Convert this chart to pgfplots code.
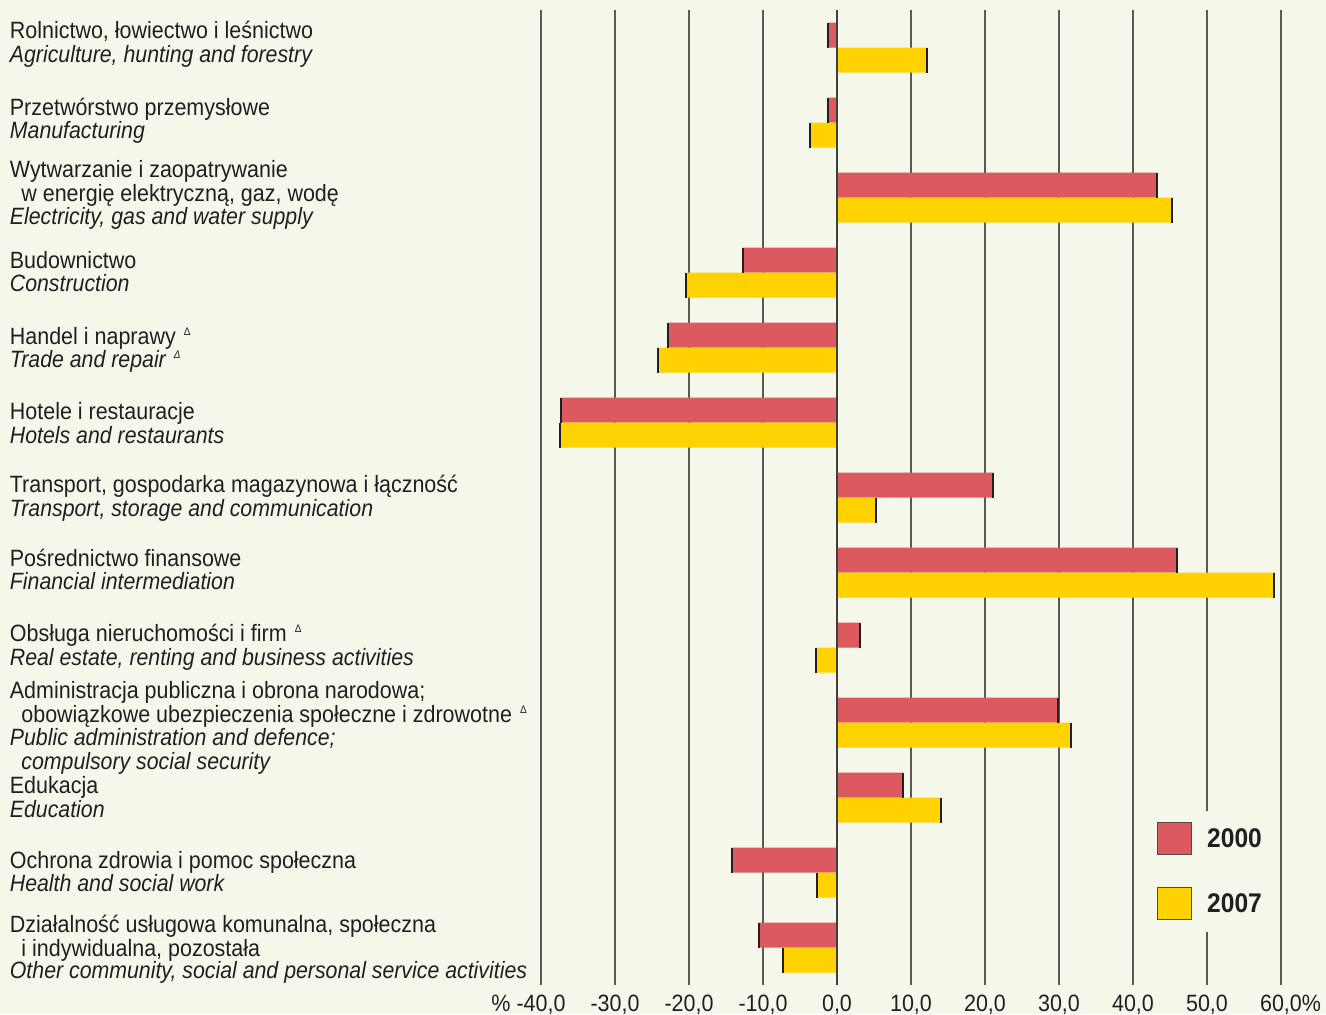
\documentclass[border=0pt]{standalone}
\usepackage{pgfplots}
\pgfplotsset{compat=1.18}
\usepackage{pgfplotstable}
\usepackage{fontspec}
\setmainfont{Liberation Sans}[FakeStretch=0.91, ItalicFeatures={FakeStretch=0.903}]
\definecolor{bgc}{HTML}{F6F7EB}
\definecolor{redc}{HTML}{DC5A5F}
\definecolor{yelc}{HTML}{FFD200}
\definecolor{capc}{HTML}{231F20}
\definecolor{txtc}{HTML}{231F20}
\definecolor{gridc}{HTML}{5A5A55}
\pgfplotstableread{
idx v2000 v2007
1 -1.2 12.2
2 -1.2 -3.6
3 43.2 45.3
4 -12.7 -20.4
5 -22.8 -24.2
6 -37.3 -37.4
7 21.1 5.3
8 45.9 59.1
9 3.1 -2.8
10 29.9 31.6
11 8.9 14.1
12 -14.2 -2.7
13 -10.5 -7.3
}\datatable
\newcommand\lf{\fontsize{11.8}{11.75}\selectfont}
\newcommand\tri{\hspace{4pt}\raisebox{4.5pt}{\fontsize{5.5}{6}\selectfont Δ}}
\begin{document}
\begin{tikzpicture}
\useasboundingbox (0,0) rectangle (663pt,507pt);
\fill[bgc] (0,0) rectangle (663pt,507pt);
\begin{axis}[
  at={(270.5pt,14.5pt)}, anchor=south west,
  scale only axis, width=370pt, height=487.5pt,
  xmin=-40, xmax=60, ymin=0.5, ymax=13.5,
  y dir=reverse,
  axis line style={draw=none},
  major tick length=0pt,
  ytick=\empty,
  xtick={-40,-30,-20,-10,0,10,20,30,40,50,60},
  xticklabels={{\llap{\%\ }-40,0},{-30,0},{-20,0},{-10,0},{0,0},{10,0},{20,0},{30,0},{40,0},{50,0},{60,0\rlap{\%}}},
  xticklabel style={anchor=base, yshift=-13pt, font=\lf, text=txtc},
  xmajorgrids,
  major grid style={draw=gridc, line width=0.9pt},
  xbar, bar width=12.5pt, bar shift=0pt,
  legend cell align=left,
  legend image code/.code={\draw[#1, draw=black!70, line width=0.6pt] (0pt,-7.5pt) rectangle (17pt,8.5pt);},
  legend style={at={(axis cs:43.24,11.327)}, anchor=north west, draw=none, fill=none,
    inner sep=0pt, outer sep=0pt, row sep=16pt, column sep=7.5pt,
    nodes={inner sep=0pt}, font=\bfseries\fontsize{13.5}{14}\selectfont, text=txtc},
]
\fill[bgc] (axis cs:40.9,11.18) rectangle (axis cs:59.3,12.79);
\addplot[fill=redc, draw=none] table[x=v2000, y expr=\thisrow{idx}-0.16667] {\datatable};
\addlegendentry{2000}
\addplot[fill=yelc, draw=none] table[x=v2007, y expr=\thisrow{idx}+0.16667] {\datatable};
\addlegendentry{2007}
\addplot[forget plot, only marks, mark=|, mark size=6.25pt, mark options={draw=capc, line width=1.1pt}] table[x=v2000, y expr=\thisrow{idx}-0.16667] {\datatable};
\addplot[forget plot, only marks, mark=|, mark size=6.25pt, mark options={draw=capc, line width=1.1pt}] table[x=v2007, y expr=\thisrow{idx}+0.16667] {\datatable};
\draw[gridc!70!black, line width=0.9pt] (axis cs:0,0.5) -- (axis cs:0,13.5);
\end{axis}
\begin{scope}[x=0.5pt, y=-0.5pt, shift={(0pt,507pt)}, every node/.style={anchor=base west, inner sep=0pt, font=\lf, text=txtc}]
\node at (9.5,39) {Rolnictwo, łowiectwo i leśnictwo};
\node at (9.5,63) {\itshape Agriculture, hunting and forestry};
\node at (9.5,116) {Przetwórstwo przemysłowe};
\node at (9.5,139) {\itshape Manufacturing};
\node at (9.5,178) {Wytwarzanie i zaopatrywanie};
\node at (21,202) {w energię elektryczną, gaz, wodę};
\node at (9.5,225) {\itshape Electricity, gas and water supply};
\node at (9.5,268) {Budownictwo};
\node at (9.5,291) {\itshape Construction};
\node at (9.5,344) {Handel i naprawy\tri};
\node at (9.5,367) {\itshape Trade and repair\tri};
\node at (9.5,419) {Hotele i restauracje};
\node at (9.5,443) {\itshape Hotels and restaurants};
\node at (9.5,492) {Transport, gospodarka magazynowa i łączność};
\node at (9.5,516) {\itshape Transport, storage and communication};
\node at (9.5,566) {Pośrednictwo finansowe};
\node at (9.5,589) {\itshape Financial intermediation};
\node at (9.5,641) {Obsługa nieruchomości i firm\tri};
\node at (9.5,665) {\itshape Real estate, renting and business activities};
\node at (9.5,698) {Administracja publiczna i obrona narodowa;};
\node at (21,722) {obowiązkowe ubezpieczenia społeczne i zdrowotne\tri};
\node at (9.5,745) {\itshape Public administration and defence;};
\node at (21,769) {\itshape compulsory social security};
\node at (9.5,793) {Edukacja};
\node at (9.5,817) {\itshape Education};
\node at (9.5,868) {Ochrona zdrowia i pomoc społeczna};
\node at (9.5,891) {\itshape Health and social work};
\node at (9.5,932) {Działalność usługowa komunalna, społeczna};
\node at (21,956) {i indywidualna, pozostała};
\node at (9.5,978) {\itshape Other community, social and personal service activities};
\end{scope}
\end{tikzpicture}
\end{document}
